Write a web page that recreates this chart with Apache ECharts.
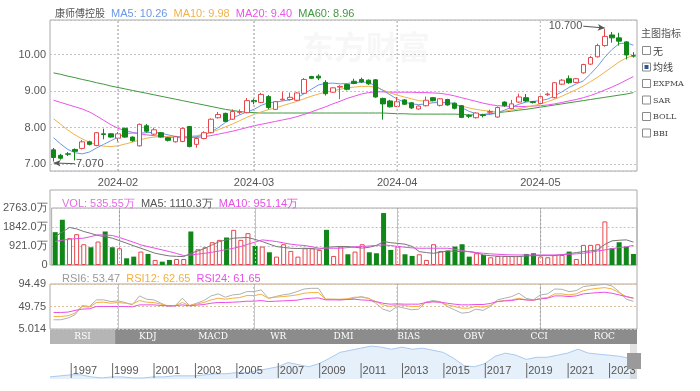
<!DOCTYPE html>
<html><head><meta charset="utf-8">
<script src="https://cdn.jsdelivr.net/npm/echarts@6/dist/echarts.min.js"></script>
<style>html,body{margin:0;padding:0;background:#fff}#c{width:700px;height:391px}</style>
</head><body><div id="c"></div>
<script>
const stockName = '康师傅控股';
const dates = ['2024-01-19','2024-01-22','2024-01-23','2024-01-24','2024-01-25','2024-01-26','2024-01-29','2024-01-30','2024-01-31',
'2024-02-01','2024-02-02','2024-02-05','2024-02-06','2024-02-07','2024-02-08','2024-02-09','2024-02-14','2024-02-15','2024-02-16','2024-02-19','2024-02-20','2024-02-21','2024-02-22','2024-02-23','2024-02-26','2024-02-27','2024-02-28','2024-02-29',
'2024-03-01','2024-03-04','2024-03-05','2024-03-06','2024-03-07','2024-03-08','2024-03-11','2024-03-12','2024-03-13','2024-03-14','2024-03-15','2024-03-18','2024-03-19','2024-03-20','2024-03-21','2024-03-22','2024-03-25','2024-03-26','2024-03-27','2024-03-28',
'2024-04-02','2024-04-03','2024-04-05','2024-04-08','2024-04-09','2024-04-10','2024-04-11','2024-04-12','2024-04-15','2024-04-16','2024-04-17','2024-04-18','2024-04-19','2024-04-22','2024-04-23','2024-04-24','2024-04-25','2024-04-26','2024-04-29','2024-04-30',
'2024-05-02','2024-05-03','2024-05-06','2024-05-07','2024-05-08','2024-05-09','2024-05-10','2024-05-13','2024-05-14','2024-05-16','2024-05-17','2024-05-20','2024-05-21','2024-05-22'];
// [open, close, low, high]
const candles = [
[7.39,7.18,7.07,7.44],[7.24,7.16,7.12,7.28],[7.28,7.27,7.22,7.33],[7.40,7.35,7.10,7.43],[7.43,7.61,7.40,7.66],
[7.61,7.54,7.51,7.64],[7.51,7.86,7.49,7.88],[7.83,7.81,7.68,7.97],[7.83,7.74,7.72,7.85],[7.71,7.83,7.62,7.88],
[7.98,7.74,7.72,8.00],[7.74,7.64,7.61,7.76],[7.50,8.09,7.48,8.11],[8.05,7.90,7.86,8.10],[7.82,7.94,7.79,8.00],
[7.86,7.74,7.72,7.88],[7.72,7.65,7.62,7.74],[7.61,7.75,7.59,7.77],[7.62,7.98,7.60,8.00],[8.03,7.48,7.46,8.04],
[7.54,7.70,7.45,7.73],[7.70,7.86,7.68,7.90],[7.86,8.23,7.84,8.25],[8.27,8.36,8.25,8.43],[8.39,8.17,8.15,8.41],
[8.23,8.44,8.21,8.50],[8.42,8.43,8.36,8.50],[8.41,8.74,8.39,8.81],[8.74,8.71,8.64,8.79],[8.69,8.91,8.67,8.95],
[8.85,8.55,8.50,8.89],[8.50,8.71,8.48,8.73],[8.76,8.78,8.74,8.98],[8.77,8.83,8.74,8.96],[8.75,8.95,8.73,8.97],
[8.94,9.32,8.92,9.36],[9.40,9.35,9.33,9.42],[9.41,9.36,9.30,9.46],[9.24,8.93,8.88,9.30],[8.97,9.09,8.95,9.10],
[9.11,9.13,8.78,9.16],[9.18,9.05,9.02,9.20],[9.27,9.21,9.19,9.34],[9.32,9.25,9.22,9.37],[9.30,9.20,9.17,9.32],
[9.31,8.84,8.82,9.33],[8.80,8.65,8.22,8.82],[8.73,8.57,8.55,8.76],[8.58,8.71,8.56,8.84],[8.76,8.64,8.62,8.78],
[8.68,8.54,8.51,8.70],[8.51,8.59,8.49,8.61],[8.60,8.75,8.58,8.85],[8.82,8.74,8.72,8.84],[8.61,8.79,8.58,8.81],
[8.77,8.62,8.60,8.79],[8.67,8.53,8.50,8.69],[8.60,8.28,8.26,8.62],[8.33,8.31,8.26,8.37],[8.27,8.40,8.25,8.42],
[8.35,8.33,8.28,8.38],[8.42,8.44,8.38,8.49],[8.29,8.55,8.27,8.58],[8.70,8.60,8.57,8.72],[8.52,8.65,8.50,8.76],
[8.70,8.84,8.68,8.93],[8.82,8.73,8.70,8.92],[8.71,8.69,8.66,8.73],[8.66,8.85,8.64,8.88],[8.90,8.92,8.87,8.96],
[8.82,9.23,8.80,9.25],[9.19,9.30,9.17,9.33],[9.34,9.23,9.20,9.43],[9.24,9.34,9.22,9.36],[9.50,9.73,9.48,9.75],
[9.74,9.92,9.72,9.96],[9.94,10.25,9.92,10.30],[10.25,10.50,10.22,10.70],[10.54,10.46,10.33,10.62],[10.46,10.37,10.25,10.60],
[10.35,9.99,9.87,10.37],[9.97,9.96,9.92,10.07]];
const ma5 = [7.72,7.55,7.40,7.31,7.28,7.33,7.44,7.54,7.64,7.74,7.84,7.85,7.85,7.86,7.87,7.85,7.80,7.76,7.74,7.74,
7.75,7.80,7.88,8.00,8.14,8.26,8.35,8.43,8.50,8.61,8.68,8.70,8.73,8.76,8.82,8.93,9.05,9.17,9.21,9.22,
9.20,9.21,9.23,9.25,9.24,9.14,9.02,8.90,8.78,8.70,8.65,8.63,8.65,8.68,8.69,8.69,8.66,8.55,8.45,8.38,
8.35,8.36,8.40,8.48,8.56,8.64,8.70,8.72,8.74,8.78,8.87,8.98,9.10,9.20,9.28,9.47,9.68,9.93,10.14,10.30,10.32,10.26];
const ma10 = [8.24,8.09,7.93,7.80,7.69,7.60,7.53,7.49,7.48,7.50,7.55,7.60,7.66,7.71,7.74,7.75,7.75,7.75,7.75,7.76,
7.78,7.82,7.87,7.94,8.02,8.10,8.19,8.28,8.36,8.43,8.49,8.54,8.60,8.66,8.72,8.79,8.86,8.92,8.97,9.01,
9.05,9.09,9.11,9.13,9.13,9.11,9.03,8.95,8.89,8.84,8.79,8.74,8.72,8.70,8.69,8.67,8.63,8.59,8.54,8.50,
8.47,8.45,8.44,8.45,8.48,8.52,8.56,8.60,8.65,8.71,8.78,8.86,8.95,9.04,9.14,9.26,9.38,9.52,9.66,9.80,9.91,9.98];
const ma20 = [8.75,8.69,8.63,8.57,8.51,8.43,8.32,8.20,8.08,7.98,7.92,7.87,7.83,7.80,7.78,7.76,7.74,7.73,7.72,7.72,
7.73,7.75,7.78,7.82,7.86,7.90,7.95,8.00,8.05,8.09,8.13,8.17,8.21,8.25,8.30,8.36,8.43,8.50,8.57,8.65,
8.72,8.80,8.86,8.92,8.96,8.98,8.98,8.97,8.97,8.97,8.97,8.96,8.96,8.95,8.94,8.91,8.87,8.82,8.77,8.72,
8.67,8.63,8.60,8.59,8.58,8.58,8.58,8.59,8.60,8.62,8.65,8.69,8.73,8.77,8.82,8.88,8.95,9.03,9.11,9.20,9.30,9.40];
const ma60 = [9.50,9.46,9.41,9.37,9.32,9.28,9.23,9.19,9.14,9.10,9.06,9.02,8.98,8.94,8.90,8.86,8.82,8.78,8.74,8.70,
8.66,8.62,8.58,8.54,8.50,8.47,8.44,8.42,8.41,8.40,8.40,8.40,8.40,8.40,8.40,8.40,8.40,8.40,8.40,8.40,
8.40,8.40,8.40,8.40,8.40,8.40,8.40,8.39,8.38,8.38,8.37,8.37,8.37,8.37,8.37,8.37,8.37,8.36,8.35,8.35,
8.36,8.38,8.41,8.43,8.45,8.48,8.50,8.53,8.56,8.59,8.62,8.65,8.68,8.71,8.74,8.77,8.80,8.83,8.86,8.89,8.92,8.96];
// volume in 万
const volumes = [1592,2193,1300,1494,1007,861,1137,1624,861,812,325,406,650,536,244,162,244,292,292,1624,
763,861,1104,1218,1332,1705,1218,1543,926,893,617,406,1007,682,406,812,812,731,1705,439,
893,520,650,1007,617,569,2518,731,893,520,439,520,244,1007,682,698,893,1007,406,569,
487,374,439,439,439,439,536,569,406,374,487,487,650,292,975,975,1007,2112,812,1104,893,535.55];
const volUp = [0,0,1,1,1,0,1,0,0,1,0,0,1,0,1,0,0,1,1,0,1,1,1,1,0,1,1,1,0,1,0,1,1,1,1,1,1,1,0,1,
1,0,1,1,0,0,0,0,1,0,0,1,1,1,1,0,0,0,0,1,0,1,1,1,1,1,0,0,1,1,1,1,0,1,1,1,1,1,0,0,0,0];
const volMa5 = [1380,1600,1820,1750,1624,1530,1430,1370,1300,1180,1056,930,812,690,569,500,439,420,406,569,
680,812,980,1137,1220,1300,1320,1332,1240,1137,1010,893,850,812,800,812,790,763,861,880,
900,893,860,820,860,950,1137,1080,1050,1007,900,650,600,569,620,682,660,650,650,600,
487,450,430,420,406,406,440,450,455,455,455,500,550,601,650,690,731,1000,1170,1200,1218,1110.3];
const volMa10 = [1137,1200,1250,1280,1300,1380,1462,1450,1430,1330,1218,1100,975,890,812,730,650,560,455,487,
530,569,620,682,750,812,900,1007,1110,1218,1180,1137,1070,1007,970,942,880,812,812,812,
812,845,880,900,920,950,975,940,900,860,830,812,812,812,812,812,760,700,640,600,
569,540,520,500,490,487,487,487,487,487,487,500,520,540,569,620,680,731,790,845,880,951.14];
const rsi6 = [23.4,23.4,26.7,33.3,51.7,49.8,62.9,62.9,59.6,60.9,57.7,53.0,70.8,64.2,62.9,56.3,49.8,51.7,66.2,51.7,
56.3,61.6,70.8,74.8,68.2,72.8,74.1,79.4,79.4,82.7,66.2,69.5,72.8,74.8,79.4,84.6,85.9,85.9,64.2,64.2,
62.9,64.2,66.2,69.5,66.0,56.3,44.5,39.9,49.8,46.5,43.2,44.5,58.3,61.6,59.6,49.8,43.2,36.6,37.9,44.5,
41.9,49.8,62.9,66.2,69.5,76.1,66.2,62.9,72.8,74.8,84.6,84.0,79.4,81.3,89.2,91.2,92.5,94.2,90.6,79.4,64.2,60.0];
const rsi12 = [30.0,30.0,31.3,36.6,49.8,48.4,57.7,58.3,56.3,57.7,56.3,54.4,61.6,58.3,57.7,54.4,51.1,51.7,57.7,51.7,
54.4,57.7,62.9,66.2,64.2,66.2,67.5,71.5,71.5,74.1,66.2,68.2,69.5,70.8,72.8,76.1,77.4,77.4,64.2,64.2,
64.2,64.9,68.2,68.2,66.0,59.6,53.0,49.8,53.0,51.7,49.8,49.8,57.7,59.6,58.3,53.0,49.8,46.5,46.5,49.8,
48.4,51.7,59.6,61.6,62.9,66.2,62.9,61.6,66.2,67.5,74.8,74.8,72.8,74.8,81.3,84.0,85.9,87.3,84.6,77.4,69.5,66.0];
const rsi24 = [37.9,37.9,38.6,41.9,44.5,45.2,49.8,49.8,49.8,49.8,49.8,49.1,53.0,53.0,53.0,51.7,51.1,51.1,53.0,51.1,
52.4,53.7,56.3,57.7,57.7,58.3,59.0,60.3,60.3,61.6,59.6,60.3,60.9,61.6,62.3,64.9,66.2,66.9,62.9,62.9,
62.9,63.6,64.2,62.9,62.0,59.6,56.3,54.4,55.0,54.4,54.4,54.4,57.7,59.0,58.3,56.3,54.4,53.0,53.0,53.7,
53.7,55.7,59.6,60.9,61.6,64.2,62.9,62.3,64.9,66.2,70.8,70.8,69.5,70.8,74.8,76.1,77.4,78.1,76.1,72.8,69.5,66.5];
const legendValues = {MA5:'10.26', MA10:'9.98', MA20:'9.40', MA60:'8.96', VOL:'535.55万', VMA5:'1110.3万', VMA10:'951.14万', RSI6:'53.47', RSI12:'62.65', RSI24:'61.65'};
const volTicks = [0, 921, 1842, 2763];
const rsiTicks = ['5.014', '49.75', '94.49'];
const rsiRange = [5.014, 94.49];
const priceRange = [6.81, 10.95];
// long-history shadow in the navigator (relative height, %)
const historyYears = [1996,1996.5,1997,1997.5,1998,1998.5,1999,1999.5,2000,2000.5,2001,2001.5,2002,2002.5,2003,2003.5,2004,2004.5,2005,2005.5,
2006,2006.5,2007,2007.5,2008,2008.5,2009,2009.5,2010,2010.5,2011,2011.5,2012,2012.5,2013,2013.5,2014,2014.5,2015,2015.5,
2016,2016.5,2017,2017.5,2018,2018.5,2019,2019.5,2020,2020.5,2021,2021.5,2022,2022.5,2023,2023.5,2024,2024.35];
const historyShadow = [6,9,12,12,6,3,6,6,3,3,6,6,9,9,9,12,15,15,18,18,
24,29,35,47,41,35,44,59,76,82,88,94,91,85,91,85,88,82,76,59,
38,35,44,65,74,68,56,62,62,68,74,85,74,71,68,65,59,65];
const indicatorTabs = ['RSI','KDJ','MACD','WR','DMI','BIAS','OBV','CCI','ROC'];
const mainIndicators = ['无','均线','EXPMA','SAR','BOLL','BBI'];
const checkedIndicator = '均线';

const RED = '#e6474d', GREEN = '#11871a';
const COL = {ma5:'#6b98e6', ma10:'#efb349', ma20:'#ec52ec', ma60:'#41993f', vma5:'#777777', vma10:'#e54fe5', rsi6:'#b0b0b0', rsi12:'#f3b03c', rsi24:'#e94ee9'};
const GRIDC = '#c2c2c2';
const monthStart = i => i > 0 && dates[i].slice(5,7) !== dates[i-1].slice(5,7);
const monthIdx = [];
dates.forEach((d,i) => { if (monthStart(i)) monthIdx.push(i); });
const L = 50, W = 587;

let hiIdx = 0, loIdx = 0;
candles.forEach((c,i) => { if (c[3] > candles[hiIdx][3]) hiIdx = i; if (c[2] < candles[loIdx][2]) loIdx = i; });
const hi = candles[hiIdx][3], lo = candles[loIdx][2];

const chart = echarts.init(document.getElementById('c'));
const dashed = {show:true, lineStyle:{color:GRIDC, type:[2,2], width:1}};
function catAxis(g, labels) {
  return {type:'category', gridIndex:g, data:dates, boundaryGap:true,
    axisLine:{show:false}, axisTick:{show:false}, splitLine:{show:false},
    axisLabel:{show:labels, interval:(i)=>monthStart(i), formatter:v=>v.slice(0,7), color:'#555', fontSize:11, margin:6, fontFamily:'Liberation Sans'}};
}
const lineS = (name, data, color, x, y) => ({name, type:'line', data, xAxisIndex:x, yAxisIndex:y, showSymbol:false, symbol:'none', smooth:false, lineStyle:{width:1, color}, itemStyle:{color}, silent:true, animation:false});

// vertical month gridlines: one two-point line series per month and panel
const panelRanges = [priceRange, [volTicks[0], volTicks[volTicks.length-1]], rsiRange];
const monthGridSeries = [];
panelRanges.forEach((rg, g) => monthIdx.forEach(i => monthGridSeries.push({
  type:'line', xAxisIndex:g, yAxisIndex:g, data:[[i, rg[0]], [i, rg[1]]], showSymbol:false, symbol:'none', silent:true, z:1,
  lineStyle:{color:'#9a9a9a', width:1, type:[2,2]}, animation:false})));

const graphics = [];
graphics.push({type:'rect', shape:{x:L, y:190, width:W, height:75}, style:{fill:null, stroke:'#aaa', lineWidth:1}, silent:true});
graphics.push({type:'line', shape:{x1:L+W, y1:265, x2:L+W, y2:284}, style:{stroke:'#aaa', lineWidth:1}});
graphics.push({type:'rect', shape:{x:L, y:329, width:W, height:15}, style:{fill:'#8c8c8c'}});
const tabW = W / indicatorTabs.length;
graphics.push({type:'rect', shape:{x:L, y:329, width:tabW, height:15}, style:{fill:'#b5b5b5'}});
indicatorTabs.forEach((t,i) => graphics.push({type:'text', x:L + (i+0.5)*tabW, y:336.5, style:{text:t, fill:'#fff', font:'9px "DejaVu Serif"', align:'center', verticalAlign:'middle'}}));
graphics.push({type:'rect', shape:{x:630, y:344, width:7, height:35}, style:{fill:'rgba(190,190,190,0.45)'}, z:10});
graphics.push({type:'rect', shape:{x:627, y:353, width:14, height:16}, style:{fill:'#9a9a9a'}, z:11});
graphics.push({type:'text', x:641, y:33, style:{text:'主图指标', fill:'#555', font:'10px "Noto Sans CJK SC"', verticalAlign:'middle'}});
mainIndicators.forEach((t,i) => {
  const y = 51 + i*16.5;
  graphics.push({type:'rect', shape:{x:642.5, y:y-4.5, width:8, height:8}, style:{fill:'#fff', stroke:'#8a8a8a', lineWidth:1}});
  if (t === checkedIndicator) graphics.push({type:'rect', shape:{x:644.5, y:y-2.5, width:4, height:4}, style:{fill:'#2d5597'}});
  graphics.push({type:'text', x:653, y:y, style:{text:t, fill:'#444', font:(/[\u4e00-\u9fff]/.test(t)?'10px "Noto Sans CJK SC"':'8px "DejaVu Serif"'), verticalAlign:'middle'}});
});
graphics.push({type:'text', x:302, y:47, style:{text:'东方财富', fill:'rgba(170,170,170,0.09)', font:'bold 32px "Noto Sans CJK SC"', verticalAlign:'middle'}, z:-1});

const option = {
  animation:false,
  backgroundColor:'#fff',
  textStyle:{fontFamily:'Liberation Sans'},
  title:[
    {left:L, top:3, text:`{n|${stockName}}  {a|MA5: ${legendValues.MA5}}  {b|MA10: ${legendValues.MA10}}  {c|MA20: ${legendValues.MA20}}  {d|MA60: ${legendValues.MA60}}`,
     textStyle:{fontSize:11, fontWeight:'normal', rich:{n:{color:'#555', fontSize:10, fontFamily:'Noto Sans CJK SC'}, a:{color:COL.ma5, fontSize:11}, b:{color:COL.ma10, fontSize:11}, c:{color:COL.ma20, fontSize:11}, d:{color:COL.ma60, fontSize:11}}}},
    {left:57, top:193, text:`{a|VOL: ${legendValues.VOL}}  {b|MA5: ${legendValues.VMA5}}  {c|MA10: ${legendValues.VMA10}}`,
     textStyle:{fontSize:11, fontWeight:'normal', rich:{a:{color:'#e46ce4', fontSize:11}, b:{color:'#555', fontSize:11}, c:{color:COL.vma10, fontSize:11}}}},
    {left:57, top:268, text:`{a|RSI6: ${legendValues.RSI6}}  {b|RSI12: ${legendValues.RSI12}}  {c|RSI24: ${legendValues.RSI24}}`,
     textStyle:{fontSize:11, fontWeight:'normal', rich:{a:{color:'#999', fontSize:11}, b:{color:COL.rsi12, fontSize:11}, c:{color:COL.rsi24, fontSize:11}}}}
  ],
  grid:[
    {left:L, top:20, width:W, height:151, show:true, borderColor:'#aaa', borderWidth:1},
    {left:L, top:208, width:W, height:57, show:true, borderColor:'#aaa', borderWidth:1},
    {left:L, top:284, width:W, height:45, show:true, borderColor:'#aaa', borderWidth:1},
    {left:L, top:344, width:W, height:35, show:false}
  ],
  xAxis:[catAxis(0,true), catAxis(1,false), catAxis(2,false),
    {type:'value', gridIndex:3, min:historyYears[0], max:historyYears[historyYears.length-1], interval:1, z:10,
     axisLine:{show:false}, axisTick:{show:false}, splitLine:{show:false},
     axisLabel:{inside:true, margin:1, showMinLabel:false, showMaxLabel:false, align:'left', verticalAlign:'bottom',
       formatter:v => (Math.round(v) % 2 === 1) ? `{bar|}{t|${Math.round(v)}}` : '',
       rich:{bar:{width:1, height:15, backgroundColor:'#666'}, t:{color:'#555', fontSize:11, padding:[0,0,0,1], height:15, verticalAlign:'middle'}}}}
  ],
  yAxis:[
    {type:'value', gridIndex:0, min:priceRange[0], max:priceRange[1], scale:true,
     axisLine:{show:false}, axisTick:{show:false}, splitLine:dashed,
     axisLabel:{formatter:v=>v.toFixed(2), color:'#555', fontSize:11, margin:4, showMinLabel:false, showMaxLabel:false}},
    {type:'value', gridIndex:1, min:volTicks[0], max:volTicks[volTicks.length-1], interval:volTicks[1]-volTicks[0],
     axisLine:{show:false}, axisTick:{show:false}, splitLine:dashed,
     axisLabel:{formatter:v=>v===0?'0':v.toFixed(1)+'万', color:'#555', fontSize:11, margin:4}},
    {type:'value', gridIndex:2, min:rsiRange[0], max:rsiRange[1], interval:(rsiRange[1]-rsiRange[0])/2,
     axisLine:{show:false}, axisTick:{show:false}, splitLine:{show:true, lineStyle:{color:'#e2bf9a', type:[2,2]}},
     axisLabel:{formatter:(v,i)=>rsiTicks[i] || '', color:'#555', fontSize:11, margin:4}},
    {type:'value', gridIndex:3, min:0, max:100, show:false}
  ],
  series:monthGridSeries.concat([
    {name:'K', type:'candlestick', xAxisIndex:0, yAxisIndex:0, data:candles.map(c=>[c[0],c[1],c[2],c[3]]), barWidth:5, z:3,
     itemStyle:{color:'#fff', color0:GREEN, borderColor:RED, borderColor0:GREEN, borderWidth:1},
     markLine:{silent:true, symbol:['none','arrow'], symbolSize:[5,7], animation:false,
       lineStyle:{color:'#555', width:1, type:'solid'},
       label:{show:true, position:'start', color:'#555', fontSize:11, formatter:'{b}', distance:1},
       data:[
         [{name:hi.toFixed(3), coord:[hiIdx-3, hi+0.08]}, {coord:[hiIdx, hi+0.03]}],
         [{name:lo.toFixed(3), coord:[loIdx+3, lo-0.06]}, {coord:[loIdx, lo-0.04]}]
       ]}},
    lineS('MA60', ma60, COL.ma60, 0, 0),
    lineS('MA20', ma20, COL.ma20, 0, 0),
    lineS('MA10', ma10, COL.ma10, 0, 0),
    lineS('MA5', ma5, COL.ma5, 0, 0),
    {name:'VOL', type:'bar', xAxisIndex:1, yAxisIndex:1, barWidth:5, silent:true,
     data:volumes.map((v,i)=>({value:v, itemStyle: volUp[i] ? {color:'#fff', borderColor:RED, borderWidth:1} : {color:GREEN}}))},
    lineS('VMA5', volMa5, COL.vma5, 1, 1),
    lineS('VMA10', volMa10, COL.vma10, 1, 1),
    lineS('RSI6', rsi6, COL.rsi6, 2, 2),
    lineS('RSI12', rsi12, COL.rsi12, 2, 2),
    lineS('RSI24', rsi24, COL.rsi24, 2, 2),
    {name:'history', type:'line', xAxisIndex:3, yAxisIndex:3, data:historyYears.map((y,i)=>[y, historyShadow[i]]),
     showSymbol:false, symbol:'none', silent:true, z:1, lineStyle:{width:1, color:'#a9c9ef'}, areaStyle:{color:'#dce9f8'}}
  ]),
  graphic:graphics
};
chart.setOption(option);

// crisp month gridlines, positioned through each grid's own scales
const vlines = [];
panelRanges.forEach((rg, g) => monthIdx.forEach(i => {
  const p0 = chart.convertToPixel({gridIndex:g}, [i, rg[0]]);
  const p1 = chart.convertToPixel({gridIndex:g}, [i, rg[1]]);
  if (!p0 || !p1 || !isFinite(p0[0])) return;
  const x = Math.floor(p0[0]) + 0.5;
  vlines.push({type:'line', silent:true, z:5, shape:{x1:x, y1:Math.min(p0[1],p1[1])+1, x2:x, y2:Math.max(p0[1],p1[1])-1},
    style:{stroke:'#c4c4c4', lineWidth:1, lineDash:[2,2]}});
}));
if (vlines.length) chart.setOption({graphic: graphics.concat(vlines)});
</script></body></html>
